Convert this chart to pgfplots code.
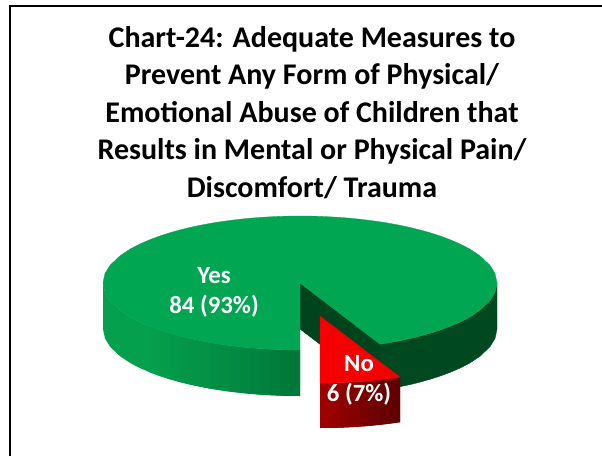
\documentclass[border=0pt]{standalone}
\usepackage{fontspec}
\setmainfont{Carlito}
\usepackage{pgfplots}
\pgfplotsset{compat=1.18}
\definecolor{gtop}{RGB}{0,166,81}
\definecolor{gleft}{RGB}{4,160,78}
\definecolor{gend}{RGB}{0,120,56}
\definecolor{gright}{RGB}{0,72,32}
\definecolor{gcut}{RGB}{0,68,30}
\definecolor{rtop}{RGB}{244,0,0}
\definecolor{rl}{RGB}{158,0,0}
\definecolor{rr}{RGB}{98,0,0}
\newcommand{\strip}[3]{\addplot[draw=none,fill=#1] coordinates {#2 #3} --cycle;}
\begin{document}
\begin{tikzpicture}
\path[use as bounding box] (0,0) rectangle (602pt,456pt);
\begin{axis}[
  at={(0,0)}, anchor=south west,
  scale only axis, width=602pt, height=456pt,
  xmin=0, xmax=602, ymin=0, ymax=456, y dir=reverse,
  hide axis, clip=true,
]
% frame
\addplot[black, line width=1.2pt] coordinates {(10,456)(10,6)(602,6)};
% right wall
\addplot[draw=gright,fill=gright] coordinates {(380,344.2)(390,342.6)(400,340.7)(410,338.6)(420,336.1)(430,333.3)(440,330.1)(450,326.4)(460,322.1)(470,316.9)(480,310.2)(490,300.7)(495,292.5)(497,283)(497,329)(495,338.5)(490,346.7)(480,356.2)(470,362.9)(460,368.1)(450,372.4)(440,376.1)(430,379.3)(420,382.1)(410,384.6)(400,386.7)(390,388.6)(380,390.2)} --cycle;
% cut face
\addplot[draw=gcut,fill=gcut] coordinates {(300,283)(380,344.2)(380,390.2)(300,329)} --cycle;
% left wall, in overlapping strips from left to right
\strip{gleft}{(103,283)(105,292.5)(110,300.7)(120,310.2)(130,316.9)(140,322.1)(150,326.4)(160,330.1)}{(160,376.1)(150,372.4)(140,368.1)(130,362.9)(120,356.2)(110,346.7)(105,338.5)(103,329)}
\strip{gend!6!gleft}{(150,326.4)(160,330.1)(170,333.3)}{(170,379.3)(160,376.1)(150,372.4)}
\strip{gend!12!gleft}{(160,330.1)(170,333.3)(180,336.1)}{(180,382.1)(170,379.3)(160,376.1)}
\strip{gend!18!gleft}{(170,333.3)(180,336.1)(190,338.6)}{(190,384.6)(180,382.1)(170,379.3)}
\strip{gend!24!gleft}{(180,336.1)(190,338.6)(200,340.7)}{(200,386.7)(190,384.6)(180,382.1)}
\strip{gend!30!gleft}{(190,338.6)(200,340.7)(210,342.6)}{(210,388.6)(200,386.7)(190,384.6)}
\strip{gend!36!gleft}{(200,340.7)(210,342.6)(220,344.2)}{(220,390.2)(210,388.6)(200,386.7)}
\strip{gend!42!gleft}{(210,342.6)(220,344.2)(230,345.6)}{(230,391.6)(220,390.2)(210,388.6)}
\strip{gend!48!gleft}{(220,344.2)(230,345.6)(240,346.8)}{(240,392.8)(230,391.6)(220,390.2)}
\strip{gend!55!gleft}{(230,345.6)(240,346.8)(250,347.8)}{(250,393.8)(240,392.8)(230,391.6)}
\strip{gend!62!gleft}{(240,346.8)(250,347.8)(260,348.6)}{(260,394.6)(250,393.8)(240,392.8)}
\strip{gend!70!gleft}{(250,347.8)(260,348.6)(270,349.2)}{(270,395.2)(260,394.6)(250,393.8)}
\strip{gend!78!gleft}{(260,348.6)(270,349.2)(280,349.7)}{(280,395.7)(270,395.2)(260,394.6)}
\strip{gend!86!gleft}{(270,349.2)(280,349.7)(290,349.9)}{(290,395.9)(280,395.7)(270,395.2)}
\strip{gend!94!gleft}{(280,349.7)(290,349.9)(300,350)}{(300,396)(290,395.9)(280,395.7)}
\strip{gend}{(290,349.9)(300,350)}{(300,396)(290,395.9)}
% top face of the Yes slice
\addplot[draw=gtop,fill=gtop,line width=0.3pt] coordinates {(300,283)(300,350)(290,349.9)(280,349.7)(270,349.2)(260,348.6)(250,347.8)(240,346.8)(230,345.6)(220,344.2)(210,342.6)(200,340.7)(190,338.6)(180,336.1)(170,333.3)(160,330.1)(150,326.4)(140,322.1)(130,316.9)(120,310.2)(110,300.7)(105,292.5)(103,283)(105,273.5)(110,265.3)(120,255.8)(130,249.1)(140,243.9)(150,239.6)(160,235.9)(170,232.7)(180,229.9)(190,227.4)(200,225.3)(210,223.4)(220,221.8)(230,220.4)(240,219.2)(250,218.2)(260,217.4)(270,216.8)(280,216.3)(290,216.1)(300,216)(310,216.1)(320,216.3)(330,216.8)(340,217.4)(350,218.2)(360,219.2)(370,220.4)(380,221.8)(390,223.4)(400,225.3)(410,227.4)(420,229.9)(430,232.7)(440,235.9)(450,239.6)(460,243.9)(470,249.1)(480,255.8)(490,265.3)(495,273.5)(497,283)(495,292.5)(490,300.7)(480,310.2)(470,316.9)(460,322.1)(450,326.4)(440,330.1)(430,333.3)(420,336.1)(410,338.6)(400,340.7)(390,342.6)(380,344.2)} --cycle;
% No slice: wall strips, then top
\strip{rl}{(320,383)(330,382.9)(340,382.7)}{(340,427.7)(330,427.9)(320,428)}
\strip{rr!15!rl}{(330,382.9)(340,382.7)(350,382.2)}{(350,427.2)(340,427.7)(330,427.9)}
\strip{rr!30!rl}{(340,382.7)(350,382.2)(360,381.6)}{(360,426.6)(350,427.2)(340,427.7)}
\strip{rr!45!rl}{(350,382.2)(360,381.6)(370,380.8)}{(370,425.8)(360,426.6)(350,427.2)}
\strip{rr!60!rl}{(360,381.6)(370,380.8)(380,379.8)}{(380,424.8)(370,425.8)(360,426.6)}
\strip{rr!75!rl}{(370,380.8)(380,379.8)(390,378.6)}{(390,423.6)(380,424.8)(370,425.8)}
\strip{rr!88!rl}{(380,379.8)(390,378.6)(400,377.2)}{(400,422.2)(390,423.6)(380,424.8)}
\strip{rr}{(390,378.6)(400,377.2)}{(400,422.2)(390,423.6)}
\addplot[draw=rtop,fill=rtop,line width=0.3pt] coordinates {(320,316)(320,383)(330,382.9)(340,382.7)(350,382.2)(360,381.6)(370,380.8)(380,379.8)(390,378.6)(400,377.2)} --cycle;
% texts
\node[black,align=center,font=\fontsize{30}{37.5}\selectfont\bfseries] at (axis cs:312,112.5) {Chart-24: Adequate Measures to\\Prevent Any Form of Physical/\\Emotional Abuse of Children that\\Results in Mental or Physical Pain/\\Discomfort/ Trauma};
\node[white,align=center,font=\fontsize{24.8}{30}\selectfont\bfseries] at (axis cs:214,292) {Yes\\84 (93\%)};
\node[white,align=center,font=\fontsize{24.8}{30}\selectfont\bfseries] at (axis cs:359,380.5) {No\\6 (7\%)};
\end{axis}
\end{tikzpicture}
\end{document}
